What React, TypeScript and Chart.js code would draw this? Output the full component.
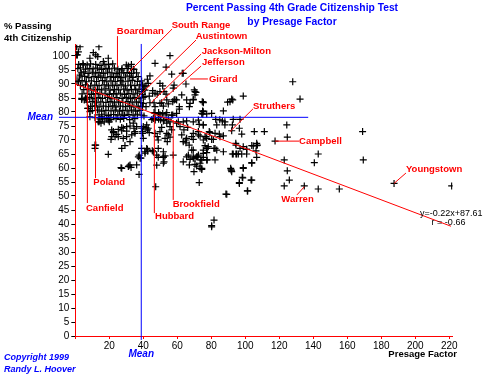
import React, { useEffect, useRef } from 'react';
import { Chart, registerables } from 'chart.js';

Chart.register(...registerables);

type P = [number, number];

// ---- data (Presage Factor, % Passing) ----
const topEdgePoints: P[] = [
  [0.8, 103.3], [2.8, 103.3], [13.9, 103.3], [1.8, 101.5], [0.8, 100.4], [1.2, 100.4], [10.6, 101.2], [12, 100.4],
  [13.2, 99.8], [19.4, 99.2], [8.6, 99.2], [16.5, 98], [4.7, 96.8], [31.2, 96.4], [34.1, 95.3], [27.3, 95],
  [2.8, 93.2], [1.8, 90.8], [3.8, 84.5], [7.3, 81.3],
];

const densePoints: P[] = [
  [2, 97], [4.5, 97.3], [7, 96.8], [9, 97.2], [12, 97], [14.5, 96.6], [17, 97.1], [19.5, 96.9], [22, 97.2], [30, 96.8], [33, 97],
  [1.5, 95.5], [3, 95.8], [6, 95.3], [8.5, 95.6], [10.5, 95.4], [13, 95.7], [15.5, 95.2], [18, 95.6], [20, 95.4], [23, 95.7], [25, 95.3], [27.5, 95.5], [31, 95.6], [34.5, 95.2],
  [3.5, 94], [5, 94.3], [7.5, 93.8], [10, 94.2], [12, 93.9], [14, 94.1], [16.5, 93.8], [19, 94.2], [21.5, 94], [24, 93.7], [26, 94.2], [28.5, 93.9], [30.5, 94.1], [33, 93.8], [36, 94],
  [2.5, 92.5], [5.5, 92.7], [8, 92.3], [11, 92.6], [13.5, 92.4], [15, 92.8], [17.5, 92.3], [20.5, 92.6], [22.5, 92.4], [25, 92.7], [27, 92.3], [29.5, 92.5], [32, 92.8], [34, 92.4], [37, 92.6],
  [1, 91], [4, 91.2], [6.5, 90.8], [9.5, 91.1], [12.5, 90.9], [16, 91.2], [18.5, 90.8], [21, 91.1], [23.5, 90.9], [26.5, 91.2], [28, 90.8], [31, 91], [33.5, 91.3], [36.5, 90.9], [39, 91.1],
  [3, 89.5], [6, 89.7], [9, 89.3], [11.5, 89.6], [14, 89.4], [17, 89.7], [19.5, 89.3], [22, 89.6], [24.5, 89.4], [27, 89.7], [29.5, 89.3], [32.5, 89.6], [35, 89.4], [38, 89.7], [40.5, 89.2],
  [5, 88], [8, 88.2], [10.5, 87.8], [13, 88.1], [15.5, 87.9], [18, 88.3], [20.5, 87.8], [23, 88.1], [25.5, 87.9], [28.5, 88.2], [30.5, 87.8], [33, 88.1], [35.5, 87.9], [37.5, 88.2], [41, 87.8],
  [4, 86.5], [7, 86.7], [9.5, 86.3], [12, 86.6], [14.5, 86.4], [17.5, 86.7], [20, 86.3], [22.5, 86.6], [24, 86.4], [26.5, 86.7], [29, 86.3], [31.5, 86.6], [34, 86.4], [36.5, 86.7], [39.5, 86.3],
  [6, 85], [8.5, 85.2], [11, 84.8], [13.5, 85.1], [16, 84.9], [19, 85.2], [21.5, 84.8], [24.5, 85.1], [27.5, 84.9], [30, 85.2], [32.5, 84.8], [35, 85.1], [37.5, 84.9], [40, 85.2],
  [7, 83.5], [10, 83.7], [12.5, 83.3], [15, 83.6], [18, 83.4], [20.5, 83.7], [23, 83.3], [25.5, 83.6], [28, 83.4], [31, 83.7], [33.5, 83.3], [36, 83.6], [38.5, 83.4],
  [9, 82], [11.5, 82.2], [14, 81.8], [16.5, 82.1], [19.5, 81.9], [22, 82.2], [24, 81.8], [26.5, 82.1], [29.5, 81.9], [32, 82.2], [34.5, 81.8], [37, 82.1], [39.5, 81.9],
  [10, 80.5], [13, 80.7], [15.5, 80.3], [18, 80.6], [21, 80.4], [23.5, 80.7], [26, 80.3], [28, 80.6], [30.5, 80.4], [33, 80.7], [35.5, 80.3], [38, 80.6],
  [14, 79], [17, 79.2], [19.5, 78.8], [22.5, 79.1], [25, 78.9], [27.5, 79.2], [29, 78.8], [31.5, 79.1], [34, 78.9], [36.5, 79.2],
  [16, 77.5], [18.5, 77.7], [21, 77.3], [24, 77.6], [26.5, 77.4], [28.5, 77.7], [32, 77.3], [35, 77.6],
];

const leftLowerPoints: P[] = [
  [3.8, 84.9], [5.3, 84.3], [6.7, 84.6], [7.6, 81.3], [8.6, 80.1], [8.6, 78.3], [11.6, 78], [14.5, 77.5], [15.5, 78.3],
  [13.5, 76.5], [15.1, 76], [19.4, 77.1], [20.4, 78], [21.4, 73.6], [22.4, 73], [24.4, 72], [28.2, 74.2], [30.2, 73.2],
  [34.1, 76], [36.1, 74.8], [35.1, 73], [32.2, 69.4], [27.3, 67], [29.2, 68], [11.6, 68.2], [19.4, 64.9],
  [12, 68.2], [26.9, 60.1], [31.6, 60.8], [21, 70.2], [27.3, 73.3], [14, 76.5], [17, 76.5], [20, 76.5],
  [21.4, 71.2], [23.4, 71.2], [25.3, 71.2], [28.2, 70.6], [22.4, 72.6], [25.3, 73.8], [27.3, 74.5], [30.2, 74.8],
  [32.2, 75], [34.5, 74.2], [35.1, 72.4], [30.2, 71.2], [33.2, 71.8], [11.6, 67], [36.1, 61.1], [32.2, 61.1], [31.2, 60.5],
  [37.6, 64.6], [38.1, 63.5], [27.3, 59.9], [32.8, 60.2], [37.5, 57.7], [37.1, 64], [38.6, 63.5],
];

const middlePoints: P[] = [
  [55.7, 100.1], [46.9, 97.4], [62.9, 93.8], [56.7, 93.5], [49.8, 90.2], [42.4, 91.7], [42.9, 90.2], [41.6, 89.3],
  [45.5, 87.6], [48.2, 86.4], [52.2, 87.3], [53.4, 86.4], [65.1, 90], [70, 87.9], [71, 87], [58.1, 84.3],
  [59.6, 84.3], [46.3, 83.3], [49.8, 83.1], [54.7, 82.9], [61.2, 81.9], [61.2, 81], [74.7, 83.7], [69.4, 84.5],
  [74.9, 80.4], [77.3, 79.3], [87.1, 80.4], [92.6, 84.3], [91, 83.7], [46.3, 79.8], [49, 79.8], [53.8, 79.8],
  [57.3, 78.9], [45, 77.3], [47, 77.1], [49, 77.4], [50.2, 77.1], [52.2, 77.1], [54.7, 77.4], [55.7, 76.5],
  [60.6, 76.5], [59.6, 76], [61.6, 74.8], [63.9, 73.6], [66.1, 74.5], [50.8, 74.5], [41.6, 74.4], [42.4, 73.6],
  [39.6, 73], [43.5, 72.6], [46.9, 72.4], [48.2, 71.2], [54.7, 71.8], [55.7, 71], [68.5, 71.2], [69.4, 70.2],
  [65.1, 70], [72.4, 73], [73.4, 71.4], [76.3, 71.2], [79.2, 72.6], [82.2, 72.4], [85.1, 71.2], [87.1, 71.5],
  [53.4, 96], [43.9, 92.9], [63.5, 93.8], [51.4, 89.3], [46.9, 86.7], [45.5, 86.7], [49.8, 87.3], [58.1, 89.6],
  [57.6, 88.5], [62.6, 86.1], [70.4, 87.3], [70.4, 86.1], [75.3, 83.3], [39.6, 89.6], [40, 88.1], [39.1, 87.3],
  [41, 85.5], [43.5, 85.7], [40, 83.1], [41.6, 81.9], [43.9, 83.3], [46.9, 81.9], [50.8, 83.3], [51.8, 82.1],
  [53.8, 84.3], [57.3, 83.7], [58.6, 84.5], [65.5, 84.3], [69.4, 84.3], [67.1, 81.9], [67.5, 83.1], [74.4, 79.5],
  [46.9, 79.5], [49.8, 79], [51.4, 79.5], [53.4, 79], [56.7, 78.9], [59.6, 79.5], [39, 78.9], [40.4, 78.6],
  [40, 74.8], [42, 75.4], [42.9, 74.2], [45.9, 77.7], [48.8, 78], [51.8, 76.8], [53.8, 76], [55.7, 74.8],
  [56.7, 73.6], [63.5, 76.5], [65.5, 76.8], [69.4, 76.5], [72.4, 77.1], [72.9, 75.6], [75.3, 75.4], [49.8, 73],
  [53.8, 72.4], [52.8, 70.6], [48.8, 70], [62.6, 71.8], [65.5, 70.6], [63.5, 69.4], [69.4, 72.4], [72.4, 71.8],
  [75.3, 70], [77.3, 70.6], [39, 74.2], [39.6, 72.4], [40, 70.6], [39, 67], [41, 65.8],
];

const lowerPoints: P[] = [
  [47.3, 53.3], [47.9, 61], [51.8, 63.8], [51.8, 61.7], [42, 67], [42.6, 66], [45.3, 66.2], [48.8, 67],
  [54.1, 69.4], [67.5, 63.1], [69.4, 64], [71.8, 64], [70.4, 61.3], [69.8, 58.7], [73.8, 62.9], [74.4, 59.5],
  [77.3, 62.9], [82.2, 62.9], [72.9, 54.8], [80.2, 39], [81.6, 41.4], [88.6, 50.7], [91.6, 59.3], [92, 58.7],
  [96.5, 54.8], [98.5, 56.5], [101.4, 51.8], [103.4, 55.7], [98.8, 60.1], [103.8, 61.7], [104.7, 67.9], [107.1, 68.2],
  [94.9, 65], [92.9, 65], [97.9, 65], [96.9, 67], [100.8, 66.7], [65.1, 69], [68.5, 66.4], [66.5, 64.6],
  [75.3, 65.2], [77.3, 67], [78.2, 67.6], [81.6, 67], [84.7, 72.1], [80.2, 70.2], [106.7, 68.8], [94.4, 68.8],
  [98.8, 67.6], [83.2, 66.4], [87.1, 65.8], [67, 68.2], [69.4, 66.4], [75.3, 66.4], [77.3, 65.5], [70.4, 63.5],
  [72.4, 64.6], [75.3, 63.8], [57.6, 64.6], [52.8, 64.3], [51.8, 65.8], [42.4, 66.7], [41, 65.3], [45.9, 65.8],
  [47.9, 64.6], [48.8, 63.8], [71.4, 60.7], [73.4, 59.9], [51.8, 64], [52.2, 62.2], [65.5, 64], [69.4, 63.5],
  [71.4, 64], [73.4, 61.7], [74.4, 59.9], [63.5, 62.2], [67.1, 61.1],
];

const rightPoints: P[] = [
  [127.9, 90.8], [132.2, 84.6], [98.8, 85.7], [92, 84.6], [89.6, 83.5], [75.3, 83.5], [75.3, 80.1], [80.2, 79.5],
  [75, 79.2], [82.6, 77.4], [85, 77.2], [86.5, 76.8], [88, 76.5], [92.9, 77.4], [96.9, 77.4], [75.3, 75.4],
  [83.2, 75.4], [88, 75.4], [92.4, 75.4], [96.5, 74.2], [124.4, 75.4], [169, 73], [78.8, 73], [92, 73.3],
  [97.9, 72.1], [105.3, 73], [111.2, 73], [76.9, 71.2], [81.2, 70.2], [124.7, 71], [117.5, 69.6], [76.3, 68],
  [77.6, 67], [82.2, 67], [94.5, 68.2], [103.8, 68], [106.7, 68], [100.8, 66.7], [106.3, 66.1], [92.4, 65],
  [94.5, 65], [95.9, 65], [100.8, 65], [106.7, 63.8], [142.9, 65], [74.4, 62.9], [77.6, 62.9], [103.8, 61.9],
  [122.9, 62.9], [140.6, 61.9], [169.4, 62.9], [91.4, 59.9], [91.9, 59.2], [98.8, 59.9], [124.7, 59], [98.2, 56.7],
  [103.8, 55.7], [125.9, 55.7], [96.5, 54.5], [122.9, 53.6], [134.7, 53.6], [142.9, 52.5], [155.3, 52.5], [187.5, 54.5],
  [221.4, 53.6], [101.2, 51.8], [89.1, 50.6], [80.2, 39.4],
];

// regression line as drawn (y = -0.22x + 87.61 label)
const regressionX = [0, 221];
const regressionY = [90, 39.2];

// means
const meanPassing = 78.1;
const meanPresage = 38.8;
const meanPassingSpan = [-9.6, 137];
const meanPresageSpan = [-1.4, 104.3];

// axis ticks
const xTickStep = 20;
const yTickStep = 5;

// school annotations: line from -> to (data units), label anchor
const schoolNotes = [
  { name: 'Boardman', from: [24.8, 107.1], to: [24.8, 96.0], at: [24.4, 108.9], align: 'left' },
  { name: 'South Range', from: [56.9, 109.6], to: [31.6, 94.3], at: [56.7, 110.8], align: 'left' },
  { name: 'Austintown', from: [71, 105.7], to: [35.1, 84.3], at: [70.8, 106.9], align: 'left' },
  { name: 'Jackson-Milton', from: [74, 100.7], to: [44.9, 83.5], at: [74.4, 101.8], align: 'left' },
  { name: 'Jefferson', from: [74, 96.4], to: [50.2, 83.7], at: [74.5, 97.6], align: 'left' },
  { name: 'Girard', from: [78, 91.8], to: [67.5, 91.8], at: [78.6, 91.8], align: 'left' },
  { name: 'Struthers', from: [104.5, 81.1], to: [91, 73], at: [104.5, 82.1], align: 'left' },
  { name: 'Campbell', from: [131.6, 69.6], to: [117.5, 69.6], at: [131.6, 69.6], align: 'left' },
  { name: 'Youngstown', from: [194.5, 58.2], to: [187.5, 54.5], at: [194.5, 59.6], align: 'left' },
  { name: 'Warren', from: [130.4, 50.4], to: [134.7, 53.3], at: [130.7, 48.9], align: 'center' },
  { name: 'Poland', from: [11.9, 56.4], to: [11.9, 88.9], at: [10.6, 54.9], align: 'left' },
  { name: 'Canfield', from: [7.1, 47.5], to: [7.1, 90.4], at: [6.3, 45.7], align: 'left' },
  { name: 'Hubbard', from: [46.5, 43.9], to: [46.5, 78.9], at: [46.9, 42.6], align: 'left' },
  { name: 'Brookfield', from: [57.6, 48.6], to: [57.6, 77.1], at: [57.3, 46.9], align: 'left' },
];

const RED = '#ff0000';
const BLUE = '#0000ff';
const FONT = '"Liberation Sans", Arial, sans-serif';

const toXY = (pts: P[]) => pts.map(([x, y]) => ({ x, y }));

const overlayPlugin = {
  id: 'overlay',
  afterDatasetsDraw(chart: any) {
    const { ctx } = chart;
    const xs = chart.scales.x;
    const ys = chart.scales.y;
    const px = (v: number) => xs.getPixelForValue(v);
    const py = (v: number) => ys.getPixelForValue(v);
    ctx.save();
    ctx.textBaseline = 'middle';

    // school annotations
    ctx.strokeStyle = RED;
    ctx.lineWidth = 1;
    ctx.fillStyle = RED;
    ctx.font = `bold 9.5px ${FONT}`;
    schoolNotes.forEach((n) => {
      ctx.beginPath();
      ctx.moveTo(px(n.from[0]), py(n.from[1]));
      ctx.lineTo(px(n.to[0]), py(n.to[1]));
      ctx.stroke();
      ctx.textAlign = n.align;
      ctx.fillText(n.name, px(n.at[0]), py(n.at[1]));
    });

    // equation
    ctx.fillStyle = '#000';
    ctx.font = `9px ${FONT}`;
    ctx.textAlign = 'left';
    ctx.fillText('y=-0.22x+87.61', px(202.8), py(43.9));
    ctx.fillText('r = -0.66', px(209.6), py(40.7));

    // mean labels
    ctx.fillStyle = BLUE;
    ctx.font = `italic bold 10px ${FONT}`;
    ctx.textAlign = 'right';
    ctx.fillText('Mean', 53, py(meanPassing));
    ctx.textAlign = 'center';
    ctx.fillText('Mean', px(meanPresage), 354);

    // titles
    ctx.font = `bold 10.3px ${FONT}`;
    ctx.textAlign = 'center';
    ctx.fillText('Percent Passing 4th Grade Citizenship Test', 292, 8);
    ctx.fillText('by Presage Factor', 292, 22);

    // axis titles
    ctx.fillStyle = '#000';
    ctx.font = `bold 9.5px ${FONT}`;
    ctx.textAlign = 'left';
    ctx.fillText('% Passing', 4, 26);
    ctx.fillText('4th Citizenship', 4, 38);
    ctx.textAlign = 'right';
    ctx.fillText('Presage Factor', 457, 354);

    // copyright
    ctx.fillStyle = BLUE;
    ctx.font = `italic bold 9px ${FONT}`;
    ctx.textAlign = 'left';
    ctx.fillText('Copyright 1999', 4, 358);
    ctx.fillText('Randy L. Hoover', 4, 370);
    ctx.restore();
  },
};

export default function App() {
  const ref = useRef<HTMLCanvasElement>(null);

  useEffect(() => {
    if (!ref.current) return;
    const scatterStyle = {
      pointStyle: 'cross',
      pointRadius: 3.5,
      pointBorderWidth: 1.2,
      pointBorderColor: '#000',
      pointBackgroundColor: '#000',
      showLine: false,
      order: 2,
    };
    const chart = new Chart(ref.current, {
      type: 'scatter',
      data: {
        datasets: [
          { label: 'top', data: toXY(topEdgePoints), ...scatterStyle },
          { label: 'dense', data: toXY(densePoints), ...scatterStyle },
          { label: 'leftLower', data: toXY(leftLowerPoints), ...scatterStyle },
          { label: 'middle', data: toXY(middlePoints), ...scatterStyle },
          { label: 'lower', data: toXY(lowerPoints), ...scatterStyle },
          { label: 'right', data: toXY(rightPoints), ...scatterStyle },
          {
            label: 'regression',
            data: regressionX.map((x, i) => ({ x, y: regressionY[i] })),
            showLine: true, pointRadius: 0, borderColor: RED, borderWidth: 1, clip: false, order: 0,
          },
          {
            label: 'meanPassing',
            data: meanPassingSpan.map((x) => ({ x, y: meanPassing })),
            showLine: true, pointRadius: 0, borderColor: BLUE, borderWidth: 1, clip: false, order: 0,
          },
          {
            label: 'meanPresage',
            data: meanPresageSpan.map((y) => ({ x: meanPresage, y })),
            showLine: true, pointRadius: 0, borderColor: BLUE, borderWidth: 1, clip: false, order: 0,
          },
        ] as any,
      },
      options: {
        animation: false,
        responsive: false,
        devicePixelRatio: 1,
        layout: { padding: { left: 0, top: 44.8, right: 32.3, bottom: 0 } },
        plugins: { legend: { display: false }, tooltip: { enabled: false }, title: { display: false } },
        scales: {
          x: {
            type: 'linear',
            min: 0,
            max: 222,
            position: 'bottom',
            afterFit: (s: any) => { s.height = 40; },
            border: { color: RED, width: 1 },
            grid: { drawOnChartArea: false, drawTicks: true, tickLength: 3, color: RED },
            ticks: {
              stepSize: xTickStep,
              includeBounds: false,
              maxRotation: 0,
              autoSkip: false,
              padding: 1,
              color: '#000',
              font: { family: FONT, size: 10 },
              callback: (v: any) => (v === 0 ? '' : String(v)),
            },
          },
          y: {
            type: 'linear',
            min: 0,
            max: 104,
            afterFit: (s: any) => { s.width = 75.3; },
            border: { color: RED, width: 1 },
            grid: { drawOnChartArea: false, drawTicks: true, tickLength: 4, color: '#000' },
            ticks: {
              stepSize: yTickStep,
              includeBounds: false,
              autoSkip: false,
              padding: 2,
              color: '#000',
              font: { family: FONT, size: 10 },
            },
          },
        },
      } as any,
      plugins: [overlayPlugin],
    });
    return () => chart.destroy();
  }, []);

  return (
    <div style={{ position: 'absolute', left: 0, top: 0, width: 485, height: 376, background: '#fff' }}>
      <canvas ref={ref} width={485} height={376} style={{ display: 'block' }} />
    </div>
  );
}
